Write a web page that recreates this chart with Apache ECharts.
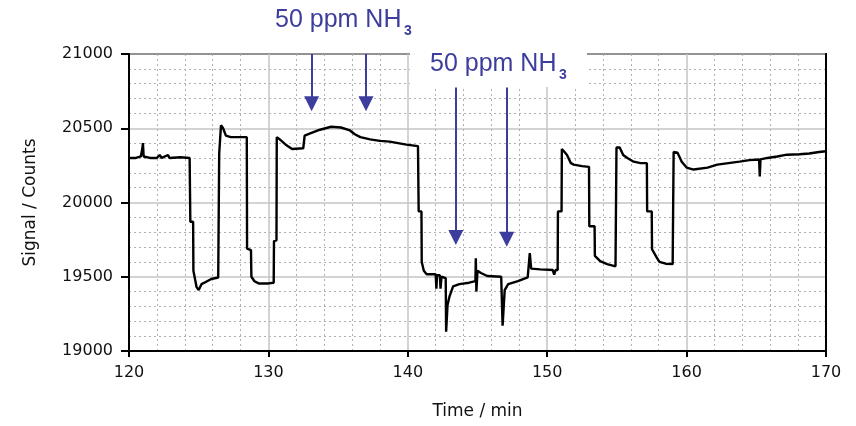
<!DOCTYPE html>
<html>
<head>
<meta charset="utf-8">
<script src="https://cdn.jsdelivr.net/npm/echarts@6/dist/echarts.min.js"></script>
<style>
  html, body { margin: 0; padding: 0; background: #fff; }
  #chart { width: 856px; height: 426px; }
</style>
</head>
<body>
<div id="chart"></div>
<script>
// Sensor signal recorded over time, with ammonia pulses marked.
const timeMin = [
  120.0, 120.5, 120.85, 120.95, 121.0, 121.05, 121.5, 122.0, 122.2, 122.35,
  122.8, 122.9, 123.7, 124.35, 124.4, 124.6, 124.62, 124.85, 125.0, 125.2,
  125.5, 125.9, 126.4, 126.45, 126.47, 126.58, 126.6, 126.75, 126.95, 127.3,
  128.0, 128.45, 128.47, 128.75, 128.78, 129.0, 129.3, 130.0, 130.38, 130.4,
  130.58, 130.6, 130.75, 131.0, 131.3, 131.7, 132.5, 132.6, 133.0, 133.7,
  134.5, 135.2, 135.85, 136.2, 136.6, 137.3, 138.0, 138.7, 139.3, 139.9,
  140.73, 140.78, 140.98, 141.0, 141.15, 141.35, 142.0, 142.05, 142.1, 142.3,
  142.35, 142.42, 142.72, 142.75, 142.85, 143.0, 143.25, 143.7, 144.4, 144.85,
  144.88, 144.92, 145.0, 145.25, 145.7, 146.7, 146.78, 146.8, 146.95, 147.2,
  147.9, 148.6, 148.72, 148.75, 148.85, 149.5, 150.4, 150.5, 150.6, 150.75,
  150.77, 151.03, 151.05, 151.2, 151.42, 151.7, 151.9, 152.5, 153.0, 153.02,
  153.4, 153.42, 153.8, 154.3, 154.9, 154.95, 154.97, 155.2, 155.45, 155.75,
  156.2, 156.7, 157.15, 157.17, 157.5, 157.52, 157.85, 158.05, 158.5, 159.0,
  159.05, 159.07, 159.35, 159.65, 160.0, 160.5, 161.5, 162.2, 163.0, 163.8,
  164.5, 165.2, 165.25, 165.3, 165.8, 166.5, 167.2, 168.1, 168.8, 169.5,
  170.0
];
const signalCounts = [
  20300, 20300, 20310, 20360, 20400, 20310, 20300, 20300, 20320, 20300,
  20320, 20300, 20305, 20300, 19870, 19870, 19540, 19430, 19410, 19450,
  19465, 19485, 19495, 19500, 20330, 20330, 20520, 20500, 20450, 20440,
  20440, 20440, 19690, 19680, 19500, 19470, 19455, 19455, 19460, 19740,
  19745, 20440, 20430, 20410, 20385, 20360, 20365, 20450, 20465, 20490,
  20510, 20505, 20485, 20460, 20440, 20425, 20415, 20410, 20400, 20390,
  20380, 19940, 19940, 19600, 19540, 19517, 19517, 19420, 19510, 19510,
  19420, 19500, 19490, 19130, 19310, 19370, 19435, 19450, 19460, 19470,
  19625, 19400, 19540, 19525, 19505, 19500, 19500, 19170, 19410, 19450,
  19470, 19495, 19500, 19660, 19555, 19550, 19545, 19515, 19545, 19545,
  19940, 19940, 20360, 20345, 20320, 20265, 20255, 20245, 20240, 19840,
  19840, 19640, 19605, 19585, 19570, 19570, 20370, 20370, 20320, 20300,
  20275, 20265, 20265, 19940, 19940, 19685, 19630, 19600, 19588, 19585,
  19585, 20340, 20335, 20275, 20235, 20222, 20235, 20255, 20265, 20275,
  20285, 20290, 20175, 20290, 20300, 20310, 20322, 20325, 20330, 20340,
  20345
];

// Times at which the 50 ppm NH3 pulses are switched in (arrow positions)
const pulseTimes = [133.1, 137.0, 143.45, 147.1];
const arrowFrom = [21000, 21000, 20775, 20775];
const arrowTo = [20665, 20665, 19765, 19752];

const xTickLabels = ['120', '130', '140', '150', '160', '170'];
const yTickLabels = ['19000', '19500', '20000', '20500', '21000'];
const annotationText = '50 ppm NH';
const annotationSub = '3';
const xName = 'Time / min';
const yName = 'Signal / Counts';

const seriesData = timeMin.map((t, i) => [t, signalCounts[i]]);
const arrowLines = pulseTimes.map((t, i) => [
  { coord: [t, arrowFrom[i]] },
  { coord: [t, arrowTo[i]] }
]);

const blue = '#3d3d9e';
const labelFont = 'DejaVu Sans';

const chart = echarts.init(document.getElementById('chart'), null, { renderer: 'canvas' });
chart.setOption({
  animation: false,
  backgroundColor: '#fff',
  grid: {
    left: 129, right: 30, top: 54, bottom: 75,
    show: true, borderColor: '#000', borderWidth: 2, backgroundColor: 'transparent'
  },
  xAxis: {
    type: 'value',
    min: 120, max: 170, interval: 10,
    name: xName, nameLocation: 'middle', nameGap: 52,
    nameTextStyle: { fontFamily: labelFont, fontSize: 17, color: '#111' },
    axisLine: { lineStyle: { color: '#000', width: 2 } },
    axisTick: { show: true, length: 6, lineStyle: { color: '#000', width: 2 } },
    axisLabel: {
      margin: 14, fontFamily: labelFont, fontSize: 16, color: '#111',
      formatter: v => xTickLabels[Math.round((v - 120) / 10)] || ''
    },
    splitLine: { show: true, lineStyle: { color: '#c4c4c4', width: 1.5 } },
    minorTick: { show: true, splitNumber: 5, length: 0 },
    minorSplitLine: { show: true, lineStyle: { color: '#b0b0b0', width: 1, type: [2, 3] } }
  },
  yAxis: [{
    type: 'value',
    min: 19000, max: 21000, interval: 500,
    name: yName, nameLocation: 'middle', nameGap: 90, nameRotate: 90,
    nameTextStyle: { fontFamily: labelFont, fontSize: 17, color: '#111' },
    axisLine: { show: true, lineStyle: { color: '#000', width: 2 } },
    axisTick: { show: true, length: 8, lineStyle: { color: '#000', width: 2 } },
    axisLabel: {
      margin: 16, fontFamily: labelFont, fontSize: 16, color: '#111',
      formatter: v => yTickLabels[Math.round((v - 19000) / 500)] || ''
    },
    splitLine: { show: true, lineStyle: { color: '#c4c4c4', width: 1.5 } },
    minorTick: { show: true, splitNumber: 5, length: 0 },
    minorSplitLine: { show: true, lineStyle: { color: '#b0b0b0', width: 1, type: [2, 3] } }
  }, {
    // right-hand frame edge
    type: 'value', position: 'right',
    min: 19000, max: 21000, interval: 500,
    axisLine: { show: true, lineStyle: { color: '#000', width: 2 } },
    axisTick: { show: false }, axisLabel: { show: false }, splitLine: { show: false }
  }],
  series: [{
    type: 'line',
    data: seriesData,
    showSymbol: false,
    lineStyle: { color: '#000', width: 2.4 },
    z: 3,
    markLine: {
      silent: true,
      symbol: ['none', 'triangle'],
      symbolSize: [15, 15],
      label: { show: false },
      lineStyle: { color: blue, width: 2, type: 'solid' },
      itemStyle: { color: blue },
      emphasis: { disabled: true },
      data: arrowLines
    }
  }],
  graphic: [
    // white backing behind the second pulse label
    { type: 'rect', z: 50, shape: { x: 410, y: 38, width: 177, height: 49 }, style: { fill: '#fff' } },
    { type: 'text', z: 60, x: 275, y: 8,
      style: { text: annotationText, fill: blue, font: '25px "Liberation Sans"' } },
    { type: 'text', z: 60, x: 404, y: 24,
      style: { text: annotationSub, fill: blue, font: 'bold 14px "Liberation Sans"' } },
    { type: 'text', z: 60, x: 430, y: 52,
      style: { text: annotationText, fill: blue, font: '25px "Liberation Sans"' } },
    { type: 'text', z: 60, x: 559, y: 68,
      style: { text: annotationSub, fill: blue, font: 'bold 14px "Liberation Sans"' } }
  ]
});
</script>
</body>
</html>
